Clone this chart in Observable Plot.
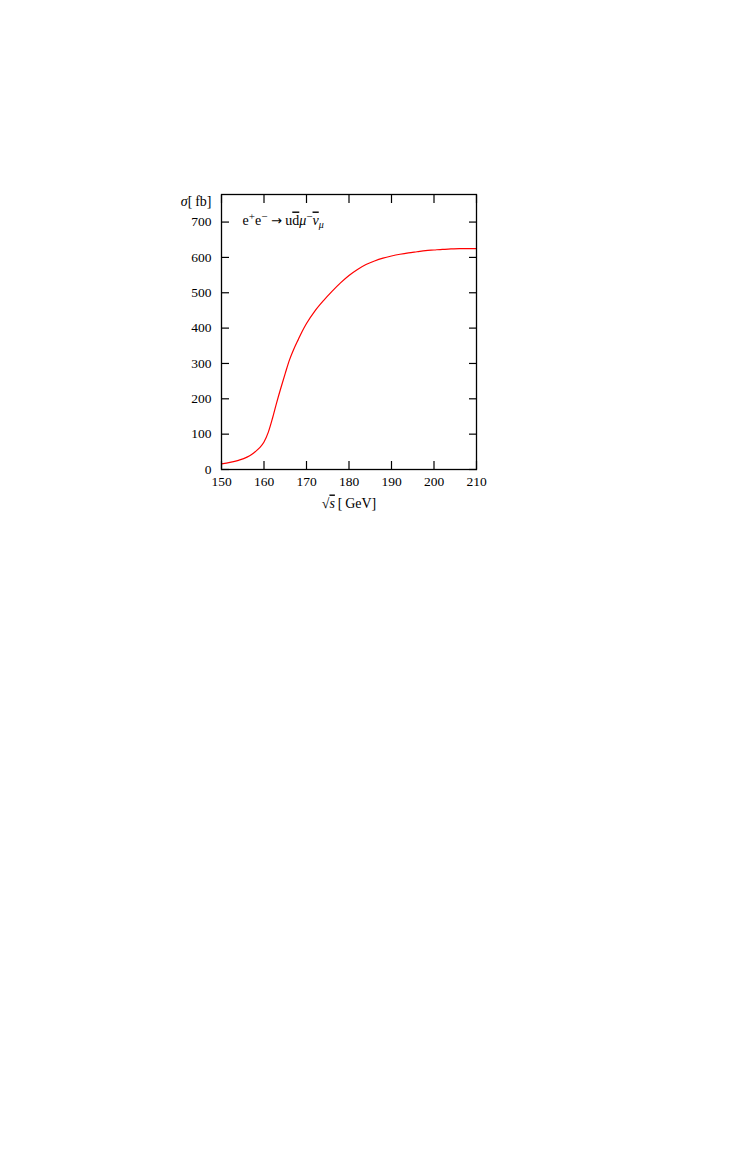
<!DOCTYPE html>
<html><head><meta charset="utf-8">
<script src="https://cdn.jsdelivr.net/npm/d3@7"></script>
<script src="https://cdn.jsdelivr.net/npm/@observablehq/plot@0.6"></script>
<style>body{margin:0;background:#fff}</style>
</head><body><div id="chart"></div>
<script>
// data
const energies = [150,152,154,156,157,158,159,160,161,162,163,164,165,166,167,168,169,170,172,174,176,178,180,182,184,186,188,190,192,194,196,198,200,202,204,206,208,210];
const sigma    = [16,20,26,35,42,51,62,78,105,145,190,232,272,310,340,366,391,413,449,478,504,528,549,566,580,590,598,604,609,613,616,619,621,623,624,625,625,625];
const xTicks = [150,160,170,180,190,200,210];
const yTicks = [0,100,200,300,400,500,600,700];
const yLabel = "σ[ fb]";
const xLabel = "√s [ GeV]";
const processLabel = "e+e− → ud̄μ−ν̄μ";

const data = energies.map((x, i) => ({x, y: sigma[i]}));
const font = "'Liberation Serif', 'Times New Roman', serif";

const chart = Plot.plot({
  width: 745, height: 1170,
  marginLeft: 221, marginRight: 269, marginTop: 194, marginBottom: 701,
  style: {fontFamily: font, fontSize: "13.5px", color: "#000", background: "#fff"},
  x: {domain: [150, 210]},
  y: {domain: [0, 778]},
  marks: [
    Plot.line(data, {x: "x", y: "y", stroke: "#ff0000", strokeWidth: 1.2, curve: "monotone-x"}),
    // inward ticks on all four sides
    Plot.axisX(xTicks, {anchor: "bottom", tickSize: 8, dy: -8, text: null, label: null, stroke: "#000", strokeWidth: 1.2}),
    Plot.axisX(xTicks, {anchor: "top", tickSize: 8, dy: 8, text: null, label: null, stroke: "#000", strokeWidth: 1.2}),
    Plot.axisY(yTicks, {anchor: "left", tickSize: 8, dx: 8, text: null, label: null, stroke: "#000", strokeWidth: 1.2}),
    Plot.axisY(yTicks, {anchor: "right", tickSize: 8, dx: -8, text: null, label: null, stroke: "#000", strokeWidth: 1.2}),
    // tick labels
    Plot.axisX(xTicks, {anchor: "bottom", tickSize: 0, tickPadding: 7, label: null, fill: "#000"}),
    Plot.axisY(yTicks, {anchor: "left", tickSize: 0, tickPadding: 10, label: null, fill: "#000"}),
    Plot.frame({stroke: "#000", strokeWidth: 1.3}),
    Plot.text([yLabel], {text: d => d, frameAnchor: "top-left", dx: -10, dy: 11, textAnchor: "end", lineAnchor: "bottom", fontSize: 14, fill: "#000"}),
    Plot.text([xLabel], {text: d => d, frameAnchor: "bottom", dy: 38, lineAnchor: "bottom", fontSize: 14, fill: "#000"}),
    Plot.text([processLabel], {text: d => d, frameAnchor: "top-left", dx: 21, dy: 30, textAnchor: "start", lineAnchor: "bottom", fontSize: 14, fill: "#000"})
  ]
});

// rich formatting of labels (italic, super/subscripts)
chart.querySelectorAll("text").forEach(t => {
  const s = t.textContent;
  if (s === yLabel) {
    t.innerHTML = '<tspan font-style="italic">σ</tspan>[\u2009fb]';
  } else if (s === xLabel) {
    t.innerHTML = '√<tspan font-style="italic" text-decoration="overline">s</tspan>\u2009[\u2009GeV]';
  } else if (s === processLabel) {
    t.innerHTML = 'e<tspan dy="-5" font-size="11">+</tspan><tspan dy="5">e</tspan><tspan dy="-5" font-size="11">−</tspan><tspan dy="5">\u00a0</tspan><tspan font-family="DejaVu Sans" font-size="13">→</tspan><tspan>\u00a0u</tspan><tspan text-decoration="overline">d</tspan><tspan font-style="italic">μ</tspan><tspan dy="-5" font-size="11">−</tspan><tspan dy="5" font-style="italic" text-decoration="overline">ν</tspan><tspan dy="3" font-size="10" font-style="italic">μ</tspan>';
  }
});
document.getElementById("chart").appendChild(chart);
</script>
</body></html>
